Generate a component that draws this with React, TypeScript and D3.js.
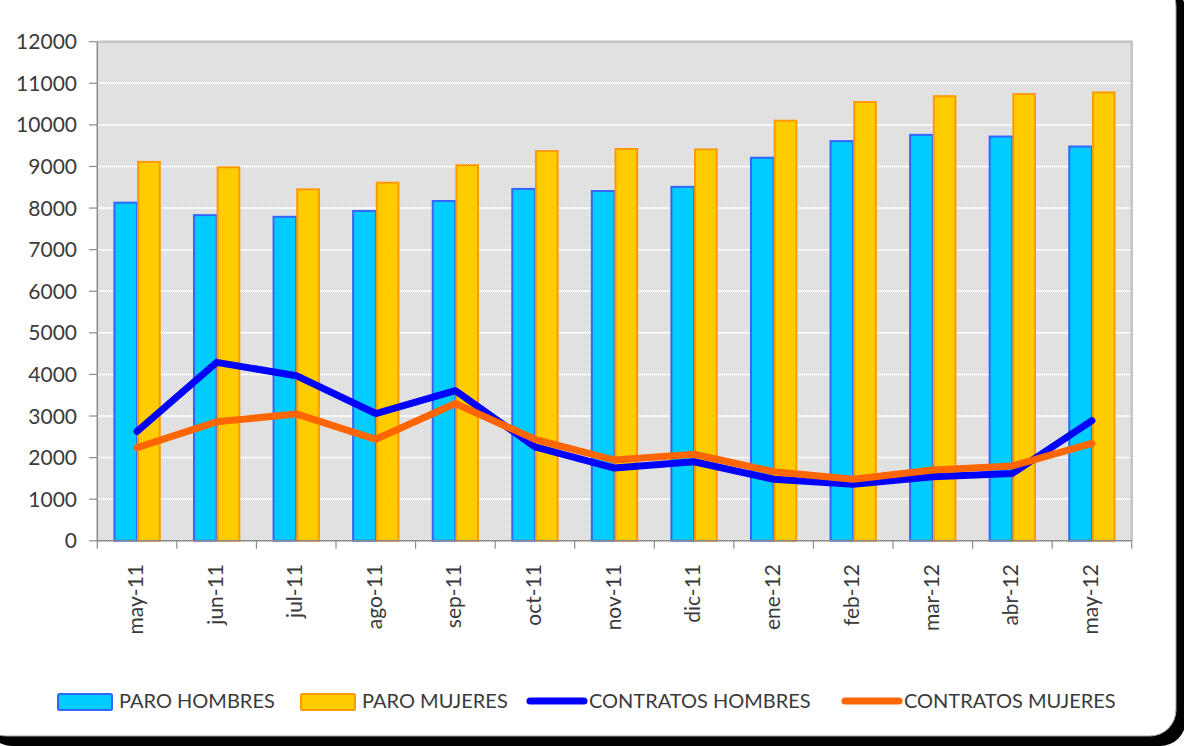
import React from 'react';
import * as d3 from 'd3';

const months = ['may-11', 'jun-11', 'jul-11', 'ago-11', 'sep-11', 'oct-11', 'nov-11', 'dic-11', 'ene-12', 'feb-12', 'mar-12', 'abr-12', 'may-12'];
const paroHombres = [8130, 7830, 7790, 7930, 8170, 8460, 8410, 8510, 9210, 9610, 9760, 9720, 9480];
const paroMujeres = [9110, 8980, 8450, 8610, 9030, 9370, 9420, 9410, 10100, 10550, 10690, 10740, 10780];
const contratosHombres = [2630, 4290, 3970, 3060, 3610, 2260, 1750, 1900, 1480, 1360, 1540, 1620, 2890];
const contratosMujeres = [2240, 2860, 3050, 2440, 3300, 2440, 1940, 2080, 1660, 1480, 1700, 1800, 2340];
const yTicks = [0, 1000, 2000, 3000, 4000, 5000, 6000, 7000, 8000, 9000, 10000, 11000, 12000];

const W = 1184;
const H = 746;
const FONT = 'Lato, "Open Sans", sans-serif';
const TEXT = '#3a3a3a';

export default function App() {
  const x = d3.scaleBand<string>().domain(months).range([97.3, 1131.7]);
  const y = d3.scaleLinear().domain([0, 12000]).range([540.8, 41.7]);

  const groupW = x.bandwidth() * 0.595;
  const inner = d3.scaleBand<string>().domain(['h', 'm']).range([0, groupW]);
  const off = (x.bandwidth() - groupW) / 2;

  const line = d3.line<number>()
    .x((d, i) => (x(months[i]) as number) + x.bandwidth() / 2)
    .y(d => y(d));

  const x0 = 97.3, x1 = 1131.7, yTop = 41.7, yBot = 540.8;

  const legend = [
    { label: 'PARO HOMBRES', type: 'bar', fill: '#00ccff', stroke: '#3366ff', x: 57 },
    { label: 'PARO MUJERES', type: 'bar', fill: '#ffcc00', stroke: '#ff9900', x: 300 },
    { label: 'CONTRATOS HOMBRES', type: 'line', stroke: '#0000ff', x: 527 },
    { label: 'CONTRATOS MUJERES', type: 'line', stroke: '#ff6600', x: 842 },
  ];

  return (
    <svg width={W} height={H} style={{ position: 'absolute', left: 0, top: 0, display: 'block' }}>
      <defs>
        <pattern id="dots" width="2" height="2" patternUnits="userSpaceOnUse">
          <rect width="2" height="2" fill="#e9e9e9" />
          <rect width="1" height="1" fill="#d6d6d6" />
          <rect x="1" y="1" width="1" height="1" fill="#dcdcdc" />
        </pattern>
      </defs>

      {/* frame with shadow */}
      <rect x={-14} y={-14} width={1200} height={760} rx={26} fill="#000" />
      <rect x={-20} y={-20} width={1196} height={756} rx={26} fill="#fff" stroke="#a0a0a0" strokeWidth={1} />

      {/* plot area */}
      <rect x={x0} y={yTop} width={x1 - x0} height={yBot - yTop} fill="url(#dots)" />
      {yTicks.slice(1, -1).map(t => (
        <line key={t} x1={x0} x2={x1} y1={y(t)} y2={y(t)} stroke="#fff" strokeWidth={1.5} />
      ))}
      <polyline points={`${x0},${yTop} ${x1},${yTop} ${x1},${yBot}`} fill="none" stroke="#c4c4c4" strokeWidth={2.5} />

      {/* bars */}
      {months.map((m, i) => {
        const bx = (x(m) as number) + off;
        return (
          <g key={m}>
            <rect x={bx + (inner('h') as number) + 1} y={y(paroHombres[i])} width={inner.bandwidth() - 1}
              height={yBot - y(paroHombres[i])} fill="#00ccff" stroke="#3366ff" strokeWidth={2} />
            <rect x={bx + (inner('m') as number) + 1} y={y(paroMujeres[i])} width={inner.bandwidth() - 2}
              height={yBot - y(paroMujeres[i])} fill="#ffcc00" stroke="#ff9900" strokeWidth={2} />
          </g>
        );
      })}

      {/* axes */}
      <line x1={x0} x2={x0} y1={yTop} y2={yBot} stroke="#8c8c8c" strokeWidth={1.5} />
      <line x1={x0} x2={x1} y1={yBot} y2={yBot} stroke="#8c8c8c" strokeWidth={1.5} />
      {yTicks.map(t => (
        <g key={t}>
          <line x1={89} x2={x0} y1={y(t)} y2={y(t)} stroke="#8c8c8c" strokeWidth={1.2} />
          <text x={77} y={y(t)} dy="0.36em" textAnchor="end" fontFamily={FONT} fontSize={21} fill={TEXT}>{t}</text>
        </g>
      ))}
      {months.map((m, i) => (
        <line key={'t' + i} x1={x(m) as number} x2={x(m) as number} y1={yBot} y2={yBot + 8} stroke="#8c8c8c" strokeWidth={1.2} />
      ))}
      <line x1={x1} x2={x1} y1={yBot} y2={yBot + 8} stroke="#8c8c8c" strokeWidth={1.2} />
      {months.map(m => {
        const cx = (x(m) as number) + x.bandwidth() / 2;
        return (
          <text key={'l' + m} transform={`translate(${cx + 6},564) rotate(-90)`} textAnchor="end"
            fontFamily={FONT} fontSize={21} fill={TEXT}>{m}</text>
        );
      })}

      {/* lines */}
      <path d={line(contratosHombres) as string} fill="none" stroke="#0000ff" strokeWidth={7} strokeLinecap="round" strokeLinejoin="round" />
      <path d={line(contratosMujeres) as string} fill="none" stroke="#ff6600" strokeWidth={7} strokeLinecap="round" strokeLinejoin="round" />

      {/* legend */}
      {legend.map(l => (
        <g key={l.label}>
          {l.type === 'bar' ? (
            <rect x={l.x + 1} y={694} width={54} height={16} rx={1.5} fill={l.fill} stroke={l.stroke} strokeWidth={2} />
          ) : (
            <line x1={l.x + 3} x2={l.x + 57} y1={701} y2={701} stroke={l.stroke} strokeWidth={7} strokeLinecap="round" />
          )}
          <text x={l.x + 62} y={701} dy="0.36em" fontFamily={FONT} fontSize={20} fill={TEXT}>{l.label}</text>
        </g>
      ))}
    </svg>
  );
}
